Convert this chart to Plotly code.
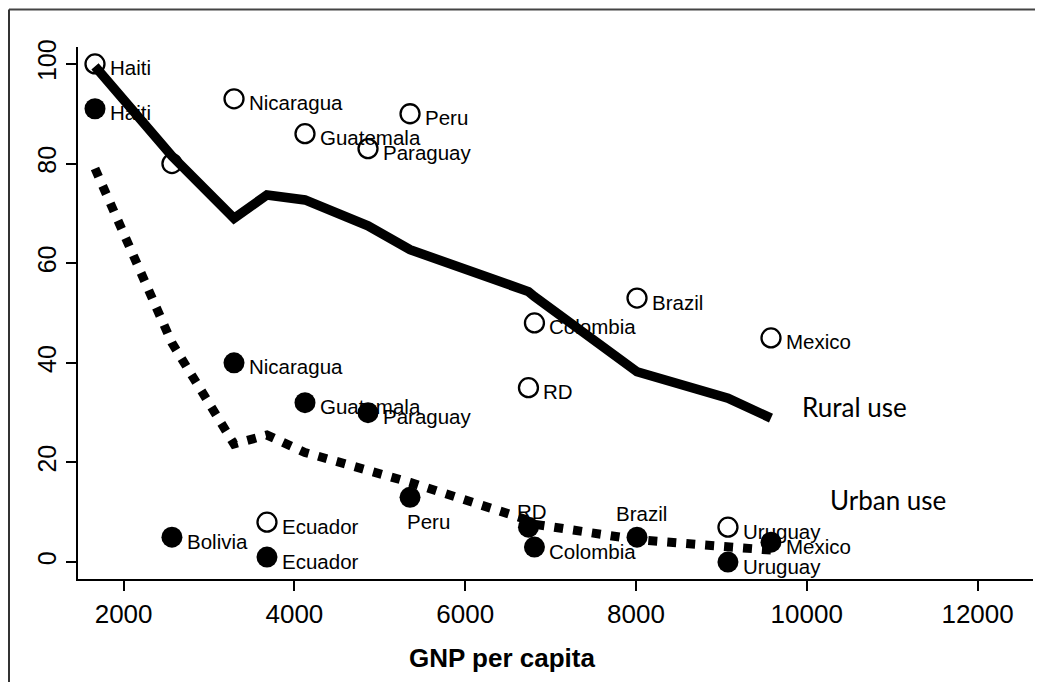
import plotly.graph_objects as go

# ---- data ----
countries = ["Haiti", "Bolivia", "Nicaragua", "Ecuador", "Guatemala", "Paraguay",
             "Peru", "RD", "Colombia", "Brazil", "Uruguay", "Mexico"]
gnp = [1665, 2566, 3293, 3679, 4124, 4862, 5354, 6741, 6811, 8012, 9077, 9581]
rural_use = [100, 80, 93, 8, 86, 83, 90, 35, 48, 53, 7, 45]
urban_use = [91, 5, 40, 1, 32, 30, 13, 7, 3, 5, 0, 4]
rural_fit = [99.5, 81.5, 69, 73.7, 72.7, 67.5, 62.7, 54.3, 53.3, 38.2, 32.9, 28.9]
urban_fit = [79, 44, 23.7, 25.5, 22, 18.3, 16, 8.4, 7.6, 4.5, 2.8, 2.4]
rural_labels = ["Haiti", "", "Nicaragua", "Ecuador", "Guatemala", "Paraguay",
                "Peru", "RD", "Colombia", "Brazil", "Uruguay", "Mexico"]
urban_labels = countries
x_ticks = [2000, 4000, 6000, 8000, 10000, 12000]
y_ticks = [0, 20, 40, 60, 80, 100]

# label placement (style, not data): default right of marker
urban_label_pos = {"Peru": "below", "RD": "above", "Brazil": "above"}

FONT = "Liberation Sans, Arial, sans-serif"
LBL = 20.5

# page has an 8px body margin; figure sized so it fits the 1043x682 window
W, H = 1035, 674
ML, MR, MT, MB = 70, 10, 39, 103
PW, PH = W - ML - MR, H - MT - MB

fig = go.Figure()

fig.add_trace(go.Scatter(
    x=gnp, y=rural_use, mode="markers",
    marker=dict(symbol="circle-open", size=19, color="black", line=dict(width=2.3, color="black")),
    showlegend=False, hoverinfo="skip"))
fig.add_trace(go.Scatter(
    x=gnp, y=urban_use, mode="markers",
    marker=dict(symbol="circle", size=21, color="black"),
    showlegend=False, hoverinfo="skip"))
fig.add_trace(go.Scatter(
    x=gnp, y=rural_fit, mode="lines",
    line=dict(color="black", width=9.5),
    showlegend=False, hoverinfo="skip"))
fig.add_trace(go.Scatter(
    x=gnp, y=urban_fit, mode="lines",
    line=dict(color="black", width=9, dash="9px,10px"),
    showlegend=False, hoverinfo="skip"))

annotations = []
for c, xv, yv, lab in zip(countries, gnp, rural_use, rural_labels):
    if lab:
        annotations.append(dict(x=xv, y=yv, text=lab, showarrow=False, xanchor="left",
                                yanchor="middle", xshift=13, yshift=-4,
                                font=dict(family=FONT, size=LBL, color="black")))
for c, xv, yv, lab in zip(countries, gnp, urban_use, urban_labels):
    pos = urban_label_pos.get(c, "right")
    if pos == "right":
        a = dict(xanchor="left", yanchor="middle", xshift=13, yshift=-4)
    elif pos == "below":
        a = dict(xanchor="center", yanchor="middle", xshift=18, yshift=-24)
    else:
        a = dict(xanchor="center", yanchor="middle", xshift=4, yshift=16 if c == "RD" else 24)
    annotations.append(dict(x=xv, y=yv, text=lab, showarrow=False,
                            font=dict(family=FONT, size=LBL, color="black"), **a))

annotations.append(dict(x=9920, y=31.1, text="Rural use", showarrow=False, xanchor="left",
                        yanchor="middle", font=dict(family="Lato, Carlito, sans-serif", size=26, color="black")))
annotations.append(dict(x=10248, y=12.4, text="Urban use", showarrow=False, xanchor="left",
                        yanchor="middle", font=dict(family="Lato, Carlito, sans-serif", size=26, color="black")))
annotations.append(dict(xref="paper", yref="paper", x=(494 - ML) / PW, y=(H - MB - 650) / PH,
                        text="<b>GNP per capita</b>",
                        showarrow=False, xanchor="center", yanchor="middle",
                        font=dict(family=FONT, size=26, color="black")))

x_left = (1 - ML) / PW
y_top = (H - MB - 1.5) / PH
fig.update_layout(
    width=W, height=H,
    margin=dict(l=ML, r=MR, t=MT, b=MB, pad=0),
    paper_bgcolor="white", plot_bgcolor="white",
    annotations=annotations,
    shapes=[
        dict(type="line", xref="paper", yref="paper", x0=x_left, x1=1.02, y0=y_top, y1=y_top,
             line=dict(color="#444444", width=2)),
        dict(type="line", xref="paper", yref="paper", x0=x_left, x1=x_left, y0=y_top, y1=-0.2,
             line=dict(color="#333333", width=2)),
    ],
    xaxis=dict(range=[1466, 12649], tickvals=x_ticks, ticktext=[str(v) for v in x_ticks],
               ticks="outside", ticklen=10, tickwidth=2, tickcolor="black",
               showline=True, linewidth=2, linecolor="black", showgrid=False, zeroline=False,
               tickfont=dict(family=FONT, size=26, color="black"), ticklabelstandoff=1),
    yaxis=dict(range=[-3.4, 103.4], tickvals=y_ticks, ticktext=[str(v) for v in y_ticks],
               tickangle=-90,
               ticks="outside", ticklen=10, tickwidth=2, tickcolor="black",
               showline=True, linewidth=2, linecolor="black", showgrid=False, zeroline=False,
               tickfont=dict(family=FONT, size=25, color="black"), ticklabelstandoff=0),
)

fig.write_html("out.html")
